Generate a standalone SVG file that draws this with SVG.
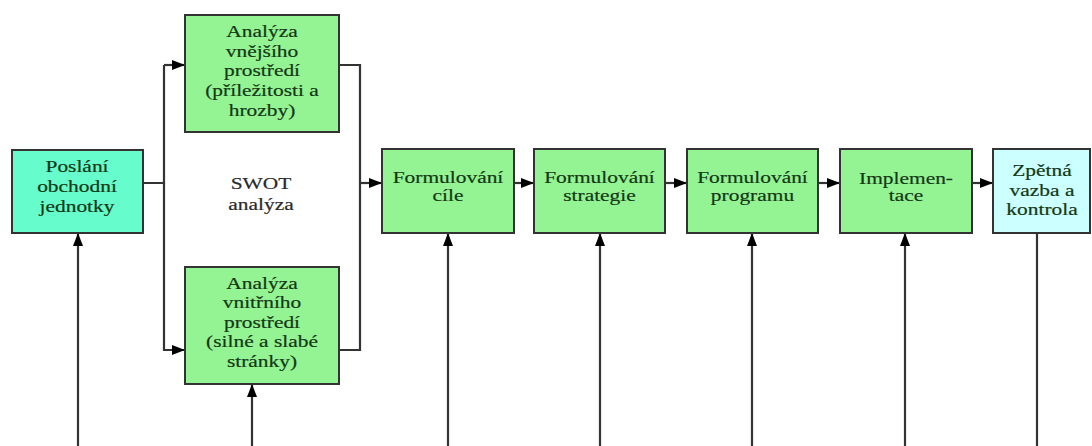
<svg xmlns="http://www.w3.org/2000/svg" width="1092" height="446" viewBox="0 0 1092 446">
<defs>
<marker id="ah" viewBox="0 0 13 10" refX="13" refY="5" markerWidth="13" markerHeight="10" markerUnits="userSpaceOnUse" orient="auto">
<path d="M0,0 L13,5 L0,10 Z" fill="#000"/>
</marker>
<style>
.box{stroke:#333;stroke-width:2}
.green{fill:#94f494}
.aqua{fill:#66fccb}
.cyan{fill:#ccffff}
.t{font-family:"Liberation Serif","Times New Roman",serif;font-size:17px;fill:#143814;stroke:#143814;stroke-width:0.2;text-anchor:middle}
.sw{fill:#2a2a2a;stroke:#2a2a2a}
.c{fill:none;stroke:#333;stroke-width:2.2}
.a{marker-end:url(#ah)}
</style>
</defs>
<rect width="1092" height="446" fill="#fff"/>
<g id="connectors">
<path class="c" d="M143,183 H164 V65"/>
<path class="c a" d="M164,65 H185"/>
<path class="c a" d="M164,183 V350 H185"/>
<path class="c" d="M339,65 H360 V350 H339"/>
<path class="c a" d="M360,183 H382"/>
<path class="c a" d="M514,183 H534"/>
<path class="c a" d="M665,183 H687"/>
<path class="c a" d="M818,183 H840"/>
<path class="c a" d="M972,183 H993"/>
<path class="c a" d="M78,446 V233"/>
<path class="c a" d="M252,446 V384"/>
<path class="c a" d="M448,446 V233"/>
<path class="c a" d="M600,446 V233"/>
<path class="c a" d="M752,446 V233"/>
<path class="c a" d="M905,446 V233"/>
<path class="c" d="M1037,233 V446"/>
</g>
<g id="poslani">
<rect class="box aqua" x="12" y="150" width="131" height="83"/>
<g transform="translate(77,0) scale(1.26,1)"><text class="t"><tspan x="0" y="172">Poslání</tspan><tspan x="0" y="192">obchodní</tspan><tspan x="0" y="212">jednotky</tspan></text></g>
</g>
<g id="vnejsi">
<rect class="box green" x="185" y="15" width="154" height="117"/>
<g transform="translate(262,0) scale(1.26,1)"><text class="t"><tspan x="0" y="37">Analýza</tspan><tspan x="0" y="57">vnějšího</tspan><tspan x="0" y="76">prostředí</tspan><tspan x="0" y="96">(příležitosti a</tspan><tspan x="0" y="116">hrozby)</tspan></text></g>
</g>
<g id="swot">
<g transform="translate(261,0) scale(1.26,1)"><text class="t sw"><tspan x="0" y="189">SWOT</tspan><tspan x="0" y="210">analýza</tspan></text></g>
</g>
<g id="vnitrni">
<rect class="box green" x="185" y="267" width="154" height="117"/>
<g transform="translate(262,0) scale(1.26,1)"><text class="t"><tspan x="0" y="289">Analýza</tspan><tspan x="0" y="308">vnitřního</tspan><tspan x="0" y="328">prostředí</tspan><tspan x="0" y="347">(silné a slabé</tspan><tspan x="0" y="367">stránky)</tspan></text></g>
</g>
<g id="cile">
<rect class="box green" x="382" y="149" width="132" height="84"/>
<g transform="translate(448,0) scale(1.26,1)"><text class="t"><tspan x="0" y="183">Formulování</tspan><tspan x="0" y="201">cíle</tspan></text></g>
</g>
<g id="strategie">
<rect class="box green" x="534" y="149" width="131" height="84"/>
<g transform="translate(599.5,0) scale(1.26,1)"><text class="t"><tspan x="0" y="183">Formulování</tspan><tspan x="0" y="201">strategie</tspan></text></g>
</g>
<g id="programu">
<rect class="box green" x="687" y="149" width="131" height="84"/>
<g transform="translate(752.5,0) scale(1.26,1)"><text class="t"><tspan x="0" y="183">Formulování</tspan><tspan x="0" y="201">programu</tspan></text></g>
</g>
<g id="implementace">
<rect class="box green" x="840" y="149" width="132" height="84"/>
<g transform="translate(906,0) scale(1.26,1)"><text class="t"><tspan x="0" y="184">Implemen-</tspan><tspan x="0" y="201">tace</tspan></text></g>
</g>
<g id="zpetna">
<rect class="box cyan" x="993" y="149" width="97" height="84"/>
<g transform="translate(1042,0) scale(1.26,1)"><text class="t"><tspan x="0" y="176">Zpětná</tspan><tspan x="0" y="196">vazba a</tspan><tspan x="0" y="215">kontrola</tspan></text></g>
</g>
</svg>
